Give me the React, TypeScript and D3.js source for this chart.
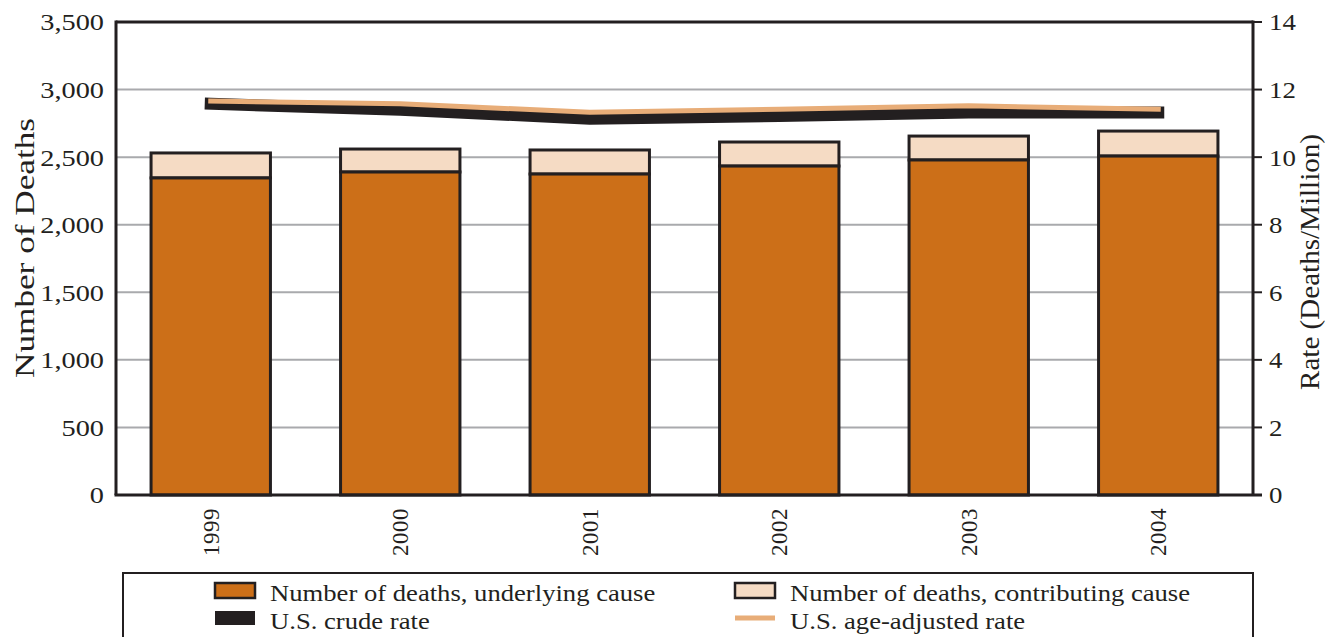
import React from "react";
import * as d3 from "d3";

const years = ["1999", "2000", "2001", "2002", "2003", "2004"];
const underlying = [2346, 2390, 2375, 2434, 2479, 2508];
const contributing = [185, 170, 178, 178, 177, 185];
const crudeRate = [11.58, 11.4, 11.14, 11.22, 11.32, 11.32];
const ageAdjRate = [11.66, 11.58, 11.33, 11.42, 11.52, 11.42];
const leftTicks = [0, 500, 1000, 1500, 2000, 2500, 3000, 3500];
const rightTicks = [0, 2, 4, 6, 8, 10, 12, 14];

const W = 1325;
const H = 637;
const L = 116, R = 1253, T = 22, B = 495;
const C_UNDER = "#cc6f18";
const C_CONTRIB = "#f5dbc4";
const C_DARK = "#231f20";
const C_GRID = "#a9aaad";
const C_AGE = "#e8ad78";
const FONT = "'Liberation Serif', 'Times New Roman', serif";

export default function App() {
  const x = d3.scaleBand<string>().domain(years).range([L, R]).paddingInner(0.37).paddingOuter(0.185);
  const yL = d3.scaleLinear().domain([0, 3500]).range([B, T]);
  const yR = d3.scaleLinear().domain([0, 14]).range([B, T]);
  const fmt = d3.format(",");
  const cx = (i: number) => (x(years[i]) as number) + x.bandwidth() / 2;
  const lineGen = d3.line<number>().x((_, i) => cx(i)).y((d) => yR(d));

  return (
    <svg width={W} height={H} style={{ position: "absolute", left: 0, top: 0 }} fontFamily={FONT}>
      <rect x={0} y={0} width={W} height={H} fill="#fff" />
      {/* gridlines */}
      {leftTicks.filter((t) => t > 0 && t < 3500).map((t) => (
        <line key={t} x1={L} x2={R} y1={yL(t)} y2={yL(t)} stroke={C_GRID} strokeWidth={2} />
      ))}
      {/* bars */}
      {years.map((yr, i) => {
        const x0 = x(yr) as number;
        const bw = x.bandwidth();
        const u = underlying[i];
        const tot = u + contributing[i];
        return (
          <g key={yr}>
            <rect x={x0} y={yL(tot)} width={bw} height={yL(u) - yL(tot)} fill={C_CONTRIB} stroke={C_DARK} strokeWidth={3} />
            <rect x={x0} y={yL(u)} width={bw} height={yL(0) - yL(u)} fill={C_UNDER} stroke={C_DARK} strokeWidth={3} />
          </g>
        );
      })}
      {/* rate lines */}
      <path d={lineGen(crudeRate) || ""} fill="none" stroke={C_DARK} strokeWidth={12} strokeLinecap="square" strokeLinejoin="miter" />
      <path d={lineGen(ageAdjRate) || ""} fill="none" stroke={C_AGE} strokeWidth={5} strokeLinecap="square" strokeLinejoin="miter" />
      {/* frame */}
      <line x1={L} x2={R} y1={T} y2={T} stroke={C_DARK} strokeWidth={3} />
      <line x1={L} x2={L} y1={T - 1.5} y2={B} stroke={C_DARK} strokeWidth={3} />
      <line x1={R} x2={R} y1={T - 1.5} y2={B} stroke={C_DARK} strokeWidth={3} />
      <line x1={L - 1.5} x2={R + 9} y1={B} y2={B} stroke={C_DARK} strokeWidth={3} />
      {rightTicks.map((t) => (
        <line key={t} x1={R} x2={R + 9} y1={yR(t)} y2={yR(t)} stroke={C_DARK} strokeWidth={2} />
      ))}
      {/* left tick labels */}
      {leftTicks.map((t) => (
        <text key={t} x={0} y={0} transform={`translate(104,${yL(t)}) scale(1.18,1)`} textAnchor="end" dy="0.35em" fontSize={24} fill={C_DARK}>
          {fmt(t)}
        </text>
      ))}
      {/* right tick labels */}
      {rightTicks.map((t) => (
        <text key={t} x={0} y={0} transform={`translate(1269,${yR(t)}) scale(1.12,1)`} textAnchor="start" dy="0.35em" fontSize={24} fill={C_DARK}>
          {t}
        </text>
      ))}
      {/* x labels */}
      {years.map((yr, i) => (
        <text key={yr} transform={`translate(${cx(i)},508) rotate(-90)`} textAnchor="end" dy="0.35em" fontSize={23} fill={C_DARK} letterSpacing={0.5}>
          {yr}
        </text>
      ))}
      {/* axis titles */}
      <text transform={`translate(25,248) rotate(-90)`} textAnchor="middle" dy="0.35em" fontSize={27} fill={C_DARK} textLength={260} lengthAdjust="spacingAndGlyphs">
        Number of Deaths
      </text>
      <text transform={`translate(1310,262) rotate(-90)`} textAnchor="middle" dy="0.35em" fontSize={27} fill={C_DARK} textLength={256} lengthAdjust="spacingAndGlyphs">
        Rate (Deaths/Million)
      </text>
      {/* legend */}
      <rect x={123} y={573} width={1130} height={90} fill="#fff" stroke={C_DARK} strokeWidth={2} />
      <rect x={215} y={583} width={40} height={15} fill={C_UNDER} stroke={C_DARK} strokeWidth={2.5} />
      <text x={0} y={0} transform="translate(270,601) scale(1.11,1)" fontSize={24} fill={C_DARK}>Number of deaths, underlying cause</text>
      <rect x={735} y={583} width={40} height={15} fill={C_CONTRIB} stroke={C_DARK} strokeWidth={2.5} />
      <text x={0} y={0} transform="translate(790,601) scale(1.11,1)" fontSize={24} fill={C_DARK}>Number of deaths, contributing cause</text>
      <rect x={215} y={611} width={40} height={14} fill={C_DARK} />
      <text x={0} y={0} transform="translate(270,629) scale(1.11,1)" fontSize={24} fill={C_DARK}>U.S. crude rate</text>
      <line x1={735} x2={775} y1={618} y2={618} stroke={C_AGE} strokeWidth={5} />
      <text x={0} y={0} transform="translate(790,629) scale(1.11,1)" fontSize={24} fill={C_DARK}>U.S. age-adjusted rate</text>
    </svg>
  );
}
